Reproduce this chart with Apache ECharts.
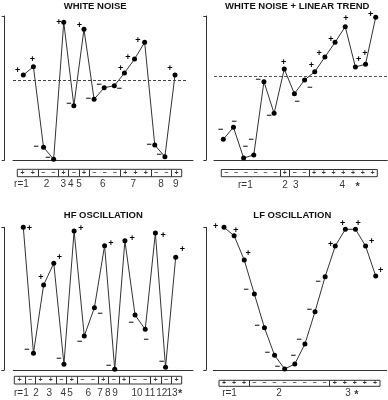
<!DOCTYPE html>
<html>
<head>
<meta charset="utf-8">
<script src="https://cdn.jsdelivr.net/npm/echarts@6/dist/echarts.min.js"></script>
<style>html,body{margin:0;padding:0;background:#fff}#c{width:388px;height:400px}</style>
</head>
<body>
<div id="c"></div>
<script>
// ---- data (0 = lowest, 100 = axis top) ----
const titles = ['WHITE NOISE', 'WHITE NOISE + LINEAR TREND', 'HF OSCILLATION', 'LF OSCILLATION'];
const whiteNoise = [59.0, 64.8, 8.8, 0.5, 95.6, 37.7, 90.8, 42.2, 50.2, 51.6, 60.4, 70.1, 81.7, 10.4, 2.3, 59.0];
const noiseTrend = [14.4, 22.7, 1.4, 3.5, 54.4, 32.4, 63.2, 46.0, 55.6, 61.3, 71.5, 81.7, 92.6, 64.6, 66.5, 99.1];
const hfOsc = [100, 11.7, 59.6, 74.8, 4.0, 97.4, 23.8, 43.7, 87.1, 0.5, 90.6, 38.5, 28.5, 96.0, 1.9, 79.0];
const lfOsc = [100, 94.1, 77.1, 53.3, 29.6, 10.3, 0.7, 4.2, 18.2, 40.9, 65.4, 86.9, 98.6, 98.6, 86.9, 65.9];
const significant = [false, true, true, true];
const seriesValues = [whiteNoise, noiseTrend, hfOsc, lfOsc];

// ---- layout (pixels) ----
const layout = [
  {titleX: 95.2, titleTop: 1.5, axisL: 13, axisR: 193, firstX: 23.3, lastX: 175, top: 16, bottom: 160, bracketX: 4.7, dashEnd: 186, dashColor: '#444',
   box: [17.3, 169.3, 181.7, 176.7], labelY: 184.5, starDx: 0,
   runNudge: [-6.1, -1.5, -0.2, -3.1, -5.1, -1.9, -2.1, -0.1, -0.9],
   offs: [[-5.7,-5],[-1,-6.7],[-7.3,-1.3],[-5.7,-2],[-5,0],[-5,-1.7],[-4.7,-3.7],[-5.7,-1],[-5,-2.7],[5,3.3],[-3.7,-4.7],[-6.7,-1.7],[-6.7,-2.3],[-5.7,-0.7],[-5.7,-1.7],[-5,-6.7]]},
  {titleX: 297.3, titleTop: 1.5, axisL: 214, axisR: 387.3, firstX: 223.3, lastX: 375.7, top: 16, bottom: 160, bracketX: 206.3, dashEnd: 387.3, dashColor: '#555',
   box: [221.3, 169.5, 377.3, 176.7], labelY: 185.5, starDx: 14.5,
   runNudge: [-5.2, 0.3, -3.6, -0.9],
   offs: [[-2.7,-9.3],[0.7,-5.7],[1.7,-11.3],[-2.7,-15],[-5.7,-1.7],[-5,2.3],[-0.7,-6.3],[2.7,8],[5.3,7.3],[-3.3,-6.7],[-5.7,-3.7],[-4.3,-3],[0.7,-8.3],[3.3,-7.7],[-0.7,-10.3],[-5,-2.3]]},
  {titleX: 103.3, titleTop: 210.8, axisL: 13.3, axisR: 193, firstX: 23.3, lastX: 175.7, top: 227.3, bottom: 370, bracketX: 4.3, dashEnd: 194, dashColor: '#999',
   box: [14.3, 376.3, 181.7, 384], labelY: 392.8, starDx: 3.6,
   runNudge: [1.8, 6, 3.6, 1.9, -1.8, 0.8, -3.2, -6, -9.2, -2.8, -5.5, -4.3, -4.4],
   offs: [[6,1.7],[-6.7,-3.3],[-2.7,-7.3],[5.7,-5.7],[-5,-5.3],[6.7,-2],[-4.7,5],[5.7,5.7],[6.3,-2.3],[-6,-3.3],[7.3,-2.3],[-4,7.7],[1,10],[7.7,2.3],[-4,-5.7],[6.7,-7.3]]},
  {titleX: 292.3, titleTop: 210.8, axisL: 213.3, axisR: 386.7, firstX: 224, lastX: 375.7, top: 227.3, bottom: 370, bracketX: 206.3, dashEnd: 387, dashColor: '#444',
   box: [219, 380.3, 380, 386.3], labelY: 393.3, starDx: 1.5,
   runNudge: [-4.6, -10.5, -6.8],
   offs: [[-8.3,-1],[1.7,-5.7],[4,-6],[-8.3,-4.7],[-7.3,-2.7],[-7.3,-2.7],[-7.3,-2.3],[-1.3,-8],[-5.7,-4.7],[-5.7,-1.7],[-7,5],[-4.7,-1.7],[-2.7,-5.3],[2.7,-5.3],[6,-4.3],[5,-5.3]]}
];

const FONT = 'Liberation Sans';
const option = {
  animation: false,
  backgroundColor: '#fff',
  textStyle: {fontFamily: FONT},
  title: [], grid: [], xAxis: [], yAxis: [], series: []
};

seriesValues.forEach((vals, k) => {
  const p = layout[k];
  const n = vals.length;
  const s = (p.lastX - p.firstX) / (n - 1);
  const xmin = -(p.firstX - p.axisL) / s;
  const xmax = (n - 1) + (p.axisR - p.lastX) / s;
  const sorted = vals.slice().sort((a, b) => a - b);
  const med = n % 2 ? sorted[(n - 1) / 2] : (sorted[n / 2 - 1] + sorted[n / 2]) / 2;
  const signs = vals.map(v => v > med ? '+' : '\u2212');
  const runs = [];
  signs.forEach((sg, i) => {
    if (i === 0 || sg !== signs[i - 1]) runs.push({start: i, end: i});
    else runs[runs.length - 1].end = i;
  });

  option.title.push({
    text: titles[k], left: p.titleX, top: p.titleTop, textAlign: 'center', padding: 0,
    textStyle: {fontSize: 9.5, fontWeight: 'bold', color: '#111', fontFamily: FONT}
  });

  // main plot
  const gi = option.grid.length;
  option.grid.push({left: p.axisL, top: p.top, width: p.axisR - p.axisL, height: p.bottom - p.top});
  option.xAxis.push({gridIndex: gi, type: 'value', min: xmin, max: xmax,
    axisLine: {show: true, onZero: false, lineStyle: {color: '#333', width: 1}},
    axisTick: {show: false}, axisLabel: {show: false}, splitLine: {show: false}});
  option.yAxis.push({gridIndex: gi, type: 'value', min: 0, max: 100, interval: 100,
    offset: p.axisL - p.bracketX,
    axisLine: {show: true, onZero: false, lineStyle: {color: '#333', width: 1}},
    axisTick: {show: true, length: 3, lineStyle: {color: '#333'}},
    axisLabel: {show: false}, splitLine: {show: false}});
  option.series.push({
    type: 'line', xAxisIndex: gi, yAxisIndex: gi,
    symbol: 'circle', symbolSize: 5, showSymbol: true,
    itemStyle: {color: '#000'},
    lineStyle: {color: '#333', width: 1},
    label: {show: true, position: 'inside', fontSize: 9, fontWeight: 'bold', color: '#000', fontFamily: FONT},
    data: vals.map((v, i) => ({value: [i, v], label: {formatter: signs[i], offset: p.offs[i]}})),
    markLine: {
      silent: true, symbol: 'none', label: {show: false},
      lineStyle: {type: [3, 2], color: p.dashColor, width: 1},
      data: [[{coord: [xmin, med]}, {coord: [(p.dashEnd - p.firstX) / s, med]}]]
    }
  });

  // sign box
  const bi = option.grid.length;
  const b = p.box;
  option.grid.push({left: b[0], top: b[1], width: b[2] - b[0], height: b[3] - b[1],
    show: true, borderColor: '#333', borderWidth: 1, backgroundColor: '#fff'});
  option.xAxis.push({gridIndex: bi, type: 'value', min: -0.5, max: n - 0.5, show: false});
  option.yAxis.push({gridIndex: bi, type: 'value', min: 0, max: 1, show: false});
  option.series.push({
    type: 'scatter', xAxisIndex: bi, yAxisIndex: bi, symbolSize: 0, clip: false,
    label: {show: true, position: 'inside', fontSize: 7, fontWeight: 'bold', color: '#000',
      formatter: q => q.value[2]},
    data: signs.map((sg, i) => [i, 0.5, sg]),
    markLine: {
      silent: true, symbol: 'none', label: {show: false},
      lineStyle: {type: 'solid', color: '#333', width: 1},
      data: runs.slice(1).map(r => ({xAxis: r.start - 0.5}))
    }
  });
  const dy = p.labelY - (b[1] + b[3]) / 2;
  const runData = runs.map((r, j) => ({
    value: [(r.start + r.end) / 2, 0.5],
    label: {formatter: j === 0 ? 'r=1' : String(j + 1), offset: [p.runNudge[j] || 0, dy]}
  }));
  if (significant[k]) {
    const last = runs[runs.length - 1];
    runData.push({value: [(last.start + last.end) / 2, 0.5],
      label: {formatter: '*', offset: [p.starDx, dy + 1.5], fontSize: 11, fontWeight: 'bold'}});
  }
  option.series.push({
    type: 'scatter', xAxisIndex: bi, yAxisIndex: bi, symbolSize: 0, clip: false,
    label: {show: true, position: 'inside', fontSize: 10, color: '#000', fontFamily: FONT},
    data: runData
  });
});

const chart = echarts.init(document.getElementById('c'), null, {renderer: 'canvas'});
chart.setOption(option);
</script>
</body>
</html>
